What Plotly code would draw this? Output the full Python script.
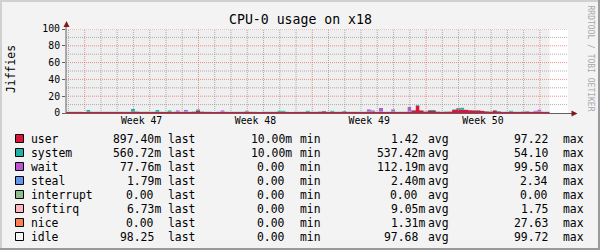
import plotly.graph_objects as go
import pandas as pd

TITLE = "CPU-0 usage on x18"
Y_TITLE = "Jiffies"
WATERMARK = "RRDTOOL / TOBI OETIKER"
START = "2011-11-19 20:25"
END = "2011-12-20 17:32"
STEP = "6h"
WEEK_STARTS = ["2011-11-21", "2011-11-28", "2011-12-05", "2011-12-12", "2011-12-19"]
WEEK_LABELS = ["Week 47", "Week 48", "Week 49", "Week 50"]
Y_TICKS = [0, 20, 40, 60, 80, 100]

NAMES = ["user", "system", "wait", "steal", "interrupt", "softirq", "nice", "idle"]
COLORS = ["#dc143c", "#20b2aa", "#ba55d3", "#6495ed", "#8fbc8f", "#ffb6c1", "#ff7f50", "#efefef"]
SWATCH = ["#dc143c", "#20b2aa", "#ba55d3", "#6495ed", "#8fbc8f", "#ffb6c1", "#ff7f50", "#f5f5f5"]

LAST = ["897.40m", "560.72m", "77.76m", "1.79m", "0.00", "6.73m", "0.00", "98.25"]
MIN = ["10.00m", "10.00m", "0.00", "0.00", "0.00", "0.00", "0.00", "0.00"]
AVG = ["1.42", "537.42m", "112.19m", "2.40m", "0.00", "9.05m", "1.31m", "97.68"]
MAX = ["97.22", "54.10", "99.50", "2.34", "0.00", "1.75", "27.63", "99.72"]

USER = [
    1.4, 1.3, 1.5, 1.4, 1.2, 1.6, 1.3, 1.4, 1.5, 1.3,
    1.4, 1.2, 1.3, 1.5, 1.4, 1.3, 1.7, 1.4, 1.3, 1.2,
    1.4, 1.3, 1.6, 1.4, 1.3, 1.5, 1.4, 1.3, 1.4, 1.5,
    1.3, 1.6, 2.5, 1.5, 1.3, 1.4, 1.2, 1.3, 1.5, 1.4,
    1.3, 1.4, 1.2, 1.3, 1.4, 1.5, 1.3, 1.2, 1.4, 1.3,
    1.3, 1.4, 1.5, 1.6, 1.3, 1.2, 1.4, 1.3, 1.4, 1.5,
    1.3, 1.4, 1.6, 2.0, 1.4, 1.5, 1.3, 1.4, 1.8, 1.3,
    1.4, 1.3, 1.2, 1.4, 1.5, 1.8, 1.4, 1.6, 1.3, 1.4,
    1.5, 1.3, 1.4, 1.5, 1.6, 3.0, 8.5, 3.0, 1.7, 2.5,
    2.5, 1.6, 1.4, 1.5, 1.7, 3.5, 4.5, 4.0, 3.5, 3.2,
    3.0, 3.0, 2.6, 1.8, 1.7, 3.0, 1.8, 1.5, 1.4, 1.6,
    1.4, 1.3, 1.5, 1.4, 1.3, 1.5, 1.6, 1.4, 1.3, 1.2,
]
SYSTEM = [
    0.4, 0.5, 0.4, 0.5, 0.4, 2.0, 0.5, 0.4, 0.4, 0.5,
    0.4, 0.5, 0.4, 0.4, 0.5, 0.5, 3.0, 0.6, 0.4, 0.5,
    0.4, 0.5, 2.0, 0.4, 0.5, 1.8, 0.4, 0.5, 0.4, 0.5,
    0.4, 0.5, 2.0, 0.5, 0.4, 0.5, 0.4, 0.5, 0.4, 0.5,
    0.5, 0.4, 0.5, 0.4, 0.5, 0.4, 0.5, 0.4, 0.5, 0.4,
    0.5, 0.4, 1.5, 1.5, 0.5, 0.4, 0.5, 0.4, 0.5, 1.5,
    0.4, 0.5, 0.4, 0.6, 0.5, 1.5, 0.4, 0.5, 0.6, 0.4,
    0.5, 0.4, 0.5, 0.4, 0.5, 0.6, 0.4, 0.5, 0.4, 0.5,
    0.5, 0.4, 0.5, 0.4, 0.5, 0.6, 1.0, 0.6, 0.5, 1.5,
    1.5, 0.5, 0.4, 0.5, 0.5, 1.0, 1.5, 2.5, 0.8, 0.6,
    0.6, 0.6, 0.5, 0.5, 0.4, 0.8, 0.5, 0.4, 0.5, 1.5,
    0.5, 0.4, 0.5, 0.4, 0.5, 0.4, 0.6, 0.5, 0.4, 0.5,
]
WAIT = [
    0.0, 0.0, 0.0, 0.0, 0.0, 0.0, 0.0, 0.0, 0.0, 0.0,
    0.0, 0.0, 0.0, 0.0, 0.0, 0.0, 0.0, 0.0, 0.0, 0.0,
    0.0, 0.0, 0.0, 0.0, 0.0, 0.0, 0.0, 1.5, 0.0, 1.5,
    0.0, 0.0, 0.0, 0.0, 0.0, 0.0, 0.0, 0.0, 1.5, 0.0,
    0.0, 0.0, 0.0, 0.0, 1.2, 0.0, 0.0, 0.0, 0.0, 0.0,
    0.0, 0.0, 0.0, 0.0, 0.0, 0.0, 0.0, 0.0, 0.0, 0.0,
    0.0, 0.0, 0.0, 0.0, 0.0, 0.0, 0.0, 0.0, 0.0, 0.0,
    0.0, 0.0, 0.0, 0.0, 2.5, 1.0, 0.0, 4.0, 0.0, 0.0,
    2.5, 0.0, 0.0, 0.0, 5.0, 0.0, 0.0, 0.0, 0.0, 0.0,
    0.0, 0.0, 0.0, 0.0, 0.0, 0.0, 0.0, 0.0, 0.0, 0.0,
    0.0, 0.0, 0.0, 0.0, 0.0, 0.0, 0.0, 0.0, 0.0, 0.0,
    0.0, 0.0, 0.0, 1.0, 0.0, 1.0, 2.0, 0.0, 0.0, 0.0,
]
STEAL = [
    0.0, 0.0, 0.0, 0.0, 0.0, 0.0, 0.0, 0.0, 0.0, 0.0,
    0.0, 0.0, 0.0, 0.0, 0.0, 0.0, 0.0, 0.0, 0.0, 0.0,
    0.0, 0.0, 0.0, 0.0, 0.0, 0.0, 0.0, 0.0, 0.0, 0.0,
    0.0, 0.0, 0.0, 0.0, 0.0, 0.0, 0.0, 0.0, 0.0, 0.0,
    0.0, 0.0, 0.0, 0.0, 0.0, 0.0, 0.0, 0.0, 0.0, 0.0,
    0.0, 0.0, 0.0, 0.0, 0.0, 0.0, 0.0, 0.0, 0.0, 0.0,
    0.0, 0.0, 0.0, 0.0, 0.0, 0.0, 0.0, 0.0, 0.0, 0.0,
    0.0, 0.0, 0.0, 0.0, 0.0, 0.0, 0.0, 0.0, 0.0, 0.0,
    0.0, 0.0, 0.0, 0.0, 0.0, 0.0, 0.0, 0.0, 0.0, 0.0,
    0.0, 0.0, 0.0, 0.0, 0.0, 0.0, 0.0, 0.0, 0.0, 0.0,
    0.0, 0.0, 0.0, 0.0, 0.0, 0.0, 0.0, 0.0, 0.0, 0.0,
    0.0, 0.0, 0.0, 0.0, 0.0, 0.0, 0.0, 0.0, 0.0, 0.0,
]
INTERRUPT = [
    0.0, 0.0, 0.0, 0.0, 0.0, 0.0, 0.0, 0.0, 0.0, 0.0,
    0.0, 0.0, 0.0, 0.0, 0.0, 0.0, 0.0, 0.0, 0.0, 0.0,
    0.0, 0.0, 0.0, 0.0, 0.0, 0.0, 0.0, 0.0, 0.0, 0.0,
    0.0, 0.0, 0.0, 0.0, 0.0, 0.0, 0.0, 0.0, 0.0, 0.0,
    0.0, 0.0, 0.0, 0.0, 0.0, 0.0, 0.0, 0.0, 0.0, 0.0,
    0.0, 0.0, 0.0, 0.0, 0.0, 0.0, 0.0, 0.0, 0.0, 0.0,
    0.0, 0.0, 0.0, 0.0, 0.0, 0.0, 0.0, 0.0, 0.0, 0.0,
    0.0, 0.0, 0.0, 0.0, 0.0, 0.0, 0.0, 0.0, 0.0, 0.0,
    0.0, 0.0, 0.0, 0.0, 0.0, 0.0, 0.0, 0.0, 0.0, 0.0,
    0.0, 0.0, 0.0, 0.0, 0.0, 0.0, 0.0, 0.0, 0.0, 0.0,
    0.0, 0.0, 0.0, 0.0, 0.0, 0.0, 0.0, 0.0, 0.0, 0.0,
    0.0, 0.0, 0.0, 0.0, 0.0, 0.0, 0.0, 0.0, 0.0, 0.0,
]
SOFTIRQ = [
    0.01, 0.01, 0.01, 0.01, 0.01, 0.01, 0.01, 0.01, 0.01, 0.01,
    0.01, 0.01, 0.01, 0.01, 0.01, 0.01, 0.01, 0.01, 0.01, 0.01,
    0.01, 0.01, 0.01, 0.01, 0.01, 0.01, 0.01, 0.01, 0.01, 0.01,
    0.01, 0.01, 0.01, 0.01, 0.01, 0.01, 0.01, 0.01, 0.01, 0.01,
    0.01, 0.01, 0.01, 0.01, 0.01, 0.01, 0.01, 0.01, 0.01, 0.01,
    0.01, 0.01, 0.01, 0.01, 0.01, 0.01, 0.01, 0.01, 0.01, 0.01,
    0.01, 0.01, 0.01, 0.01, 0.01, 0.01, 0.01, 0.01, 0.01, 0.01,
    0.01, 0.01, 0.01, 0.01, 0.01, 0.01, 0.01, 0.01, 0.01, 0.01,
    0.01, 0.01, 0.01, 0.01, 0.01, 0.01, 0.01, 0.01, 0.01, 0.01,
    0.01, 0.01, 0.01, 0.01, 0.01, 0.01, 0.01, 0.01, 0.01, 0.01,
    0.01, 0.01, 0.01, 0.01, 0.01, 0.01, 0.01, 0.01, 0.01, 0.01,
    0.01, 0.01, 0.01, 0.01, 0.01, 0.01, 0.01, 0.01, 0.01, 0.01,
]
NICE = [
    0.0, 0.0, 0.0, 0.0, 0.0, 0.0, 0.0, 0.0, 0.0, 0.0,
    0.0, 0.0, 0.0, 0.0, 0.0, 0.0, 0.0, 0.0, 0.0, 0.0,
    0.0, 0.0, 0.0, 0.0, 0.0, 0.0, 0.0, 0.0, 0.0, 0.0,
    0.0, 0.0, 0.0, 0.0, 0.0, 0.0, 0.0, 0.0, 0.0, 0.0,
    0.0, 0.0, 0.0, 0.0, 0.0, 0.0, 0.0, 0.0, 0.0, 0.0,
    0.0, 0.0, 0.0, 0.0, 0.0, 0.0, 0.0, 0.0, 0.0, 0.0,
    0.0, 0.0, 0.0, 0.0, 0.0, 0.0, 0.0, 0.0, 0.0, 0.0,
    0.0, 0.0, 0.0, 0.0, 0.0, 0.0, 0.0, 0.0, 0.0, 0.0,
    0.0, 0.0, 0.0, 0.0, 0.0, 0.0, 0.0, 0.0, 0.0, 0.0,
    0.0, 0.0, 0.0, 0.0, 0.0, 0.0, 0.0, 0.0, 0.0, 0.0,
    0.0, 0.0, 0.0, 0.0, 0.0, 0.0, 0.0, 0.0, 0.0, 0.0,
    0.0, 0.0, 0.0, 0.0, 0.0, 0.0, 0.0, 0.0, 0.0, 0.0,
]
IDLE = [
    98.0, 98.0, 97.9, 97.9, 98.2, 96.2, 98.0, 98.0, 97.9, 98.0,
    98.0, 98.1, 98.1, 97.9, 97.9, 98.0, 95.1, 97.8, 98.1, 98.1,
    98.0, 98.0, 96.2, 98.0, 98.0, 96.5, 98.0, 96.5, 98.0, 96.3,
    98.1, 97.7, 95.3, 97.8, 98.1, 97.9, 98.2, 98.0, 96.4, 97.9,
    98.0, 98.0, 98.1, 98.1, 96.7, 97.9, 98.0, 98.2, 97.9, 98.1,
    98.0, 98.0, 96.8, 96.7, 98.0, 98.2, 97.9, 98.1, 97.9, 96.8,
    98.1, 97.9, 97.8, 97.2, 97.9, 96.8, 98.1, 97.9, 97.4, 98.1,
    97.9, 98.1, 98.1, 98.0, 95.3, 96.4, 98.0, 93.7, 98.1, 97.9,
    95.3, 98.1, 97.9, 97.9, 92.7, 96.2, 90.3, 96.2, 97.6, 95.8,
    95.8, 97.7, 98.0, 97.8, 97.6, 95.3, 93.8, 93.3, 95.5, 96.0,
    96.2, 96.2, 96.7, 97.5, 97.7, 96.0, 97.5, 97.9, 97.9, 96.7,
    97.9, 98.1, 97.8, 97.0, 98.0, 96.9, 95.6, 97.9, 98.1, 98.1,
]
SERIES = [USER, SYSTEM, WAIT, STEAL, INTERRUPT, SOFTIRQ, NICE, IDLE]

# ---- pixel geometry of the rrdtool-style canvas ----
WIDTH, HEIGHT = 600, 250
PL, PR, PT, PB = 66, 568, 29, 113
FONT = "DejaVu Sans Mono"
CH = 6.86  # legend char width


def fx(p):
    return (p - PL) / (PR - PL)


def fy(p):
    return (PB - p) / (PB - PT)


x = pd.date_range(START, periods=len(USER), freq=STEP)

fig = go.Figure()
for name, col, vals in zip(NAMES, COLORS, SERIES):
    fig.add_trace(go.Scatter(
        x=x, y=vals, name=name, mode="lines", stackgroup="cpu",
        line=dict(width=0, shape="hv", color=col), fillcolor=col,
        showlegend=False, hoverinfo="skip",
    ))

shapes = []
annotations = []

# grid (drawn over the data, as rrdtool does)
GRID_MINOR = "rgba(150,150,150,0.75)"
GRID_MAJOR = "rgba(230,110,110,0.75)"
for v in range(10, 101, 10):
    shapes.append(dict(type="line", xref="paper", yref="y", x0=0, x1=1, y0=v, y1=v,
                       layer="above",
                       line=dict(color=GRID_MAJOR if v % 20 == 0 else GRID_MINOR,
                                 width=1, dash="1px,1px")))
week_ts = [pd.Timestamp(w) for w in WEEK_STARTS]
for d in pd.date_range("2011-11-20", "2011-12-19", freq="D"):
    major = d in week_ts
    shapes.append(dict(type="line", xref="x", yref="paper", x0=d, x1=d, y0=fy(PB - 2), y1=1,
                       layer="above",
                       line=dict(color=GRID_MAJOR if major else GRID_MINOR,
                                 width=1, dash="1px,1px")))

AXIS = "#606060"
ARROW = "#7f1a1a"
# axes with arrows
shapes.append(dict(type="line", xref="paper", yref="paper", x0=0, x1=0,
                   y0=fy(PB + 1), y1=fy(26), layer="above", line=dict(color=AXIS, width=1)))
shapes.append(dict(type="line", xref="paper", yref="paper", x0=fx(PL - 0.5), x1=fx(572),
                   y0=fy(PB + 0.5), y1=fy(PB + 0.5), layer="above", line=dict(color=AXIS, width=1)))
shapes.append(dict(type="path", xref="paper", yref="paper", layer="above",
                   path=f"M {fx(63.5)},{fy(27)} L {fx(69.5)},{fy(27)} L {fx(66.5)},{fy(21)} Z",
                   fillcolor=ARROW, line=dict(width=0)))
shapes.append(dict(type="path", xref="paper", yref="paper", layer="above",
                   path=f"M {fx(571.5)},{fy(PB - 2.5)} L {fx(571.5)},{fy(PB + 3.5)} L {fx(577.5)},{fy(PB + 0.5)} Z",
                   fillcolor=ARROW, line=dict(width=0)))

# outer 3D border
shapes.append(dict(type="line", xref="paper", yref="paper", x0=fx(0), x1=fx(600), y0=fy(1), y1=fy(1),
                   line=dict(color="#d0d0d0", width=2)))
shapes.append(dict(type="line", xref="paper", yref="paper", x0=fx(1), x1=fx(1), y0=fy(0), y1=fy(250),
                   line=dict(color="#d0d0d0", width=2)))
shapes.append(dict(type="line", xref="paper", yref="paper", x0=fx(0), x1=fx(600), y0=fy(249), y1=fy(249),
                   line=dict(color="#9a9a9a", width=2)))
shapes.append(dict(type="line", xref="paper", yref="paper", x0=fx(599), x1=fx(599), y0=fy(0), y1=fy(250),
                   line=dict(color="#9a9a9a", width=2)))

# titles
annotations.append(dict(text=TITLE, xref="paper", yref="paper", x=fx(300), y=fy(19),
                        xanchor="center", yanchor="middle", showarrow=False,
                        font=dict(family=FONT, size=13.2, color="#000000")))
annotations.append(dict(text=Y_TITLE, xref="paper", yref="paper", x=fx(11), y=fy(69),
                        xanchor="center", yanchor="middle", showarrow=False, textangle=-90,
                        font=dict(family=FONT, size=11.4, color="#000000")))
annotations.append(dict(text=WATERMARK, xref="paper", yref="paper", x=fx(590.5), y=fy(58),
                        xanchor="center", yanchor="middle", showarrow=False, textangle=90,
                        font=dict(family=FONT, size=8, color="#a8a8a8")))

# legend rows
def right_edge(txt, r):
    return r if txt.endswith("m") else r - CH


for k, name in enumerate(NAMES):
    cy = 138.5 + 14 * k
    shapes.append(dict(type="rect", xref="paper", yref="paper",
                       x0=fx(15.5), x1=fx(23.5), y0=fy(cy - 4), y1=fy(cy + 4),
                       fillcolor=SWATCH[k], line=dict(color="#000000", width=1)))
    items = [
        (name, 30.7, "left"),
        (LAST[k], right_edge(LAST[k], 160.7), "right"),
        ("last", 168.3, "left"),
        (MIN[k], right_edge(MIN[k], 291.7), "right"),
        ("min", 300.0, "left"),
        (AVG[k], right_edge(AVG[k], 425.0), "right"),
        ("avg", 428.3, "left"),
        (MAX[k], right_edge(MAX[k], 555.2), "right"),
        ("max", 563.3, "left"),
    ]
    for txt, xp, anc in items:
        annotations.append(dict(text=txt, xref="paper", yref="paper", x=fx(xp), y=fy(cy),
                                xanchor=anc, yanchor="middle", showarrow=False,
                                borderpad=0, borderwidth=0,
                                font=dict(family=FONT, size=11.4, color="#000000")))

mid_weeks = [week_ts[i] + (week_ts[i + 1] - week_ts[i]) / 2 for i in range(len(WEEK_LABELS))]

fig.update_layout(
    width=WIDTH, height=HEIGHT,
    margin=dict(l=PL, r=WIDTH - PR, t=PT, b=HEIGHT - PB, pad=0),
    paper_bgcolor="#f3f3f3", plot_bgcolor="#ffffff",
    showlegend=False,
    shapes=shapes, annotations=annotations,
    xaxis=dict(type="date", range=[START, END], tickvals=mid_weeks, ticktext=WEEK_LABELS,
               showgrid=False, zeroline=False, showline=False, ticks="",
               tickfont=dict(family=FONT, size=9.8, color="#000000"), fixedrange=True),
    yaxis=dict(range=[0, 100], tickvals=Y_TICKS, showgrid=False, zeroline=False, showline=False,
               ticks="outside", ticklen=3, tickcolor=AXIS, tickwidth=1,
               tickfont=dict(family=FONT, size=9.8, color="#000000"), fixedrange=True),
)

fig.write_html("out.html")
